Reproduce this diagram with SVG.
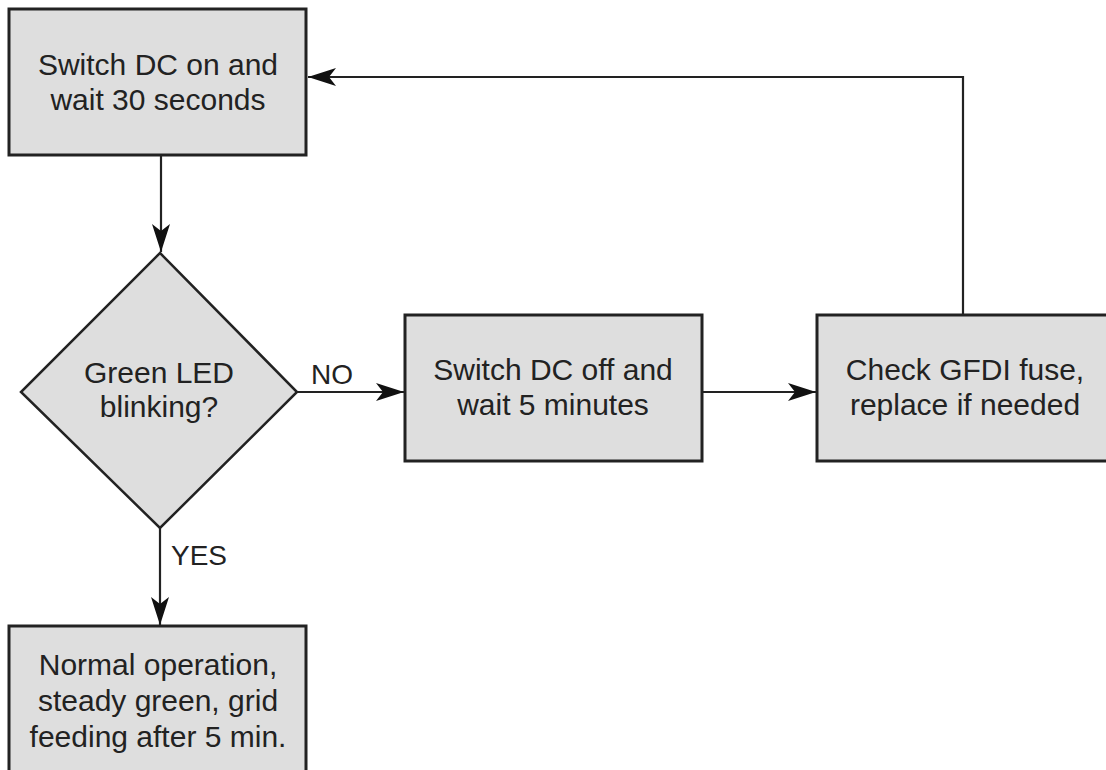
<svg xmlns="http://www.w3.org/2000/svg" width="1106" height="770" viewBox="0 0 1106 770">
<style>
.box{fill:#dedede;stroke:#222;stroke-width:3}
.dia{fill:#dedede;stroke:#222;stroke-width:2.5}
.t{font-family:"Liberation Sans",Arial,sans-serif;font-size:30px;fill:#222;text-anchor:middle}
.lbl{font-family:"Liberation Sans",Arial,sans-serif;font-size:28px;fill:#222}
.c{fill:none;stroke:#222;stroke-width:2.2}
</style>
<defs>
<marker id="ah" markerUnits="userSpaceOnUse" viewBox="-30 -10 31 20" refX="0" refY="0" markerWidth="31" markerHeight="20" orient="auto">
<path d="M0,0 L-28,-9 L-21,0 L-28,9 Z" fill="#111"/>
</marker>
</defs>
<rect width="1106" height="770" fill="#fff"/>
<g id="connectors">
<path class="c" d="M161,155 V252" marker-end="url(#ah)"/>
<path class="c" d="M297,392 H404" marker-end="url(#ah)"/>
<path class="c" d="M702,392 H816" marker-end="url(#ah)"/>
<path class="c" d="M963,315 V77 H308" marker-end="url(#ah)"/>
<path class="c" d="M160,528 V625" marker-end="url(#ah)"/>
<text class="lbl" x="311" y="384">NO</text>
<text class="lbl" x="171" y="565">YES</text>
</g>
<g id="n1">
<rect class="box" x="9" y="9" width="297" height="146"/>
<text class="t" x="158" y="75">Switch DC on and</text>
<text class="t" x="158" y="110">wait 30 seconds</text>
</g>
<g id="n2">
<polygon class="dia" points="160,253 297,392 160,528 21,392"/>
<text class="t" x="159" y="383">Green LED</text>
<text class="t" x="159" y="417">blinking?</text>
</g>
<g id="n3">
<rect class="box" x="405" y="315" width="297" height="146"/>
<text class="t" x="553" y="380">Switch DC off and</text>
<text class="t" x="553" y="415">wait 5 minutes</text>
</g>
<g id="n4">
<rect class="box" x="817" y="315" width="300" height="146"/>
<text class="t" x="965" y="380">Check GFDI fuse,</text>
<text class="t" x="965" y="415">replace if needed</text>
</g>
<g id="n5">
<rect class="box" x="9" y="626" width="297" height="160"/>
<text class="t" x="158" y="675">Normal operation,</text>
<text class="t" x="158" y="711">steady green, grid</text>
<text class="t" x="158" y="747">feeding after 5 min.</text>
</g>
</svg>
